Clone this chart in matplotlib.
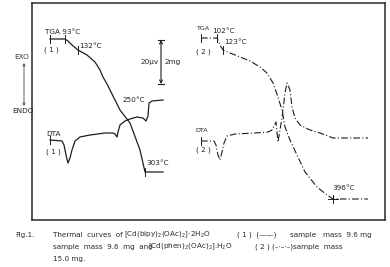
import matplotlib
matplotlib.use('Agg')
import matplotlib.pyplot as plt

# curve (1) solid, chart pixel units (x to the right, y downward)
tga1_x = [50, 65, 68, 72, 78, 87, 95, 100, 103, 107, 115, 120, 130, 140, 145, 163]
tga1_y = [39, 39, 41, 45, 50, 55, 62, 70, 77, 84, 100, 110, 123, 150, 172, 172]
dta1_x = [50, 62, 64, 66, 68, 70, 72, 75, 80, 90, 105, 113, 115, 117, 118, 120, 125,
          130, 137, 143, 146, 148, 149, 152, 163]
dta1_y = [140, 141, 145, 155, 163, 158, 150, 141, 137, 135, 133, 133, 134, 137, 132,
          125, 121, 119, 117, 118, 121, 116, 103, 101, 100]

# curve (2) dash-dot
tga2_x = [201, 217, 220, 223, 230, 240, 250, 260, 267, 273, 278, 282, 285, 290, 297,
          305, 317, 327, 333, 368]
tga2_y = [38, 38, 45, 50, 53, 57, 61, 67, 73, 83, 97, 110, 127, 140, 155, 172, 187,
          195, 199, 199]
dta2_x = [201, 214, 216, 218, 220, 222, 224, 227, 235, 255, 268, 272, 276, 278, 280,
          282, 285, 287, 290, 292, 295, 300, 310, 320, 333, 368]
dta2_y = [141, 141, 145, 155, 160, 152, 143, 136, 134, 133, 132, 130, 122, 142, 130,
          118, 93, 83, 90, 107, 118, 125, 130, 133, 138, 138]

ink = '#1e1e1e'
dashdot = (0, (6, 2, 1, 2))

fig = plt.figure(figsize=(3.9, 2.67), dpi=100)
ax = fig.add_axes([32/390, 1 - 220/267, (385-32)/390, (220-3)/267])
ax.set_xlim(32, 385)
ax.set_ylim(220, 3)
ax.set_xticks([])
ax.set_yticks([])
for s in ax.spines.values():
    s.set_linewidth(1.1)
    s.set_color('#2a2a2a')

ax.plot(tga1_x, tga1_y, color=ink, lw=0.9)
ax.plot(dta1_x, dta1_y, color=ink, lw=0.9)
ax.plot(tga2_x, tga2_y, color=ink, lw=0.8, linestyle=dashdot)
ax.plot(dta2_x, dta2_y, color=ink, lw=0.8, linestyle=dashdot)

# small tick marks on the curves
ticks = [(50, 39), (65, 39), (78, 50), (50, 140), (145, 172),
         (201, 38), (217, 38), (223, 50), (201, 141), (333, 199)]
for tx, ty in ticks:
    ax.plot([tx, tx], [ty - 4, ty + 4], color=ink, lw=0.7)
ax.plot([328, 338], [199, 199], color=ink, lw=0.7)

fs = 5.2
tk = dict(fontsize=fs, color='#222', va='center', ha='left')
ax.text(45, 32, 'TGA 93°C', **tk)
ax.text(44, 50, '( 1 )', **tk)
ax.text(79, 46, '132°C', **tk)
ax.text(122, 100, '250°C', **tk)
ax.text(146, 163, '303°C', **tk)
ax.text(46, 134, 'DTA', **tk)
ax.text(46, 152, '( 1 )', **tk)

ax.text(196, 28, 'TGA', fontsize=4.6, color='#222', va='center', ha='left')
ax.text(212, 31, '102°C', **tk)
ax.text(224, 42, '123°C', **tk)
ax.text(196, 52, '( 2 )', **tk)
ax.text(195, 131, 'DTA', fontsize=4.6, color='#222', va='center', ha='left')
ax.text(196, 150, '( 2 )', **tk)
ax.text(332, 188, '396°C', **tk)

# scale bar
ax.annotate('', xy=(161, 40), xytext=(161, 84),
            arrowprops=dict(arrowstyle='<->', lw=0.8, color=ink, shrinkA=0, shrinkB=0,
                            mutation_scale=5))
ax.plot([158, 164], [40, 40], color=ink, lw=0.8)
ax.plot([158, 164], [84, 84], color=ink, lw=0.8)
ax.text(159, 62, '20μv', fontsize=fs, color='#222', va='center', ha='right')
ax.text(164, 62, '2mg', fontsize=fs, color='#222', va='center', ha='left')

# EXO / ENDO outside the frame
ax.text(22, 57, 'EXO', fontsize=fs, color='#333', va='center', ha='center', clip_on=False)
ax.text(23, 111, 'ENDO', fontsize=fs, color='#222', va='center', ha='center', clip_on=False)
ax.annotate('', xy=(24, 63), xytext=(24, 106), annotation_clip=False,
            arrowprops=dict(arrowstyle='<->', lw=0.6, color='#444', shrinkA=0, shrinkB=0,
                            mutation_scale=4))

# caption
def cap(x, y, s):
    fig.text(x / 390, 1 - y / 267, s, fontsize=5.2, color='#2a2a2a', va='center', ha='left')

cap(15, 235, 'Fig.1.')
cap(53, 235, 'Thermal  curves  of')
cap(124, 235, '[Cd(bipy)$_2$(OAc)$_2$]·2H$_2$O')
cap(237, 235, '( 1 )  (——)')
cap(290, 235, 'sample   mass  9.6 mg')
cap(53, 247, 'sample  mass  9.6  mg  and')
cap(148, 247, '[Cd(phen)$_2$(OAc)$_2$].H$_2$O')
cap(255, 247, '( 2 ) (–·–·–)')
cap(293, 247, 'sample  mass')
cap(53, 259, '15.0 mg.')

fig.savefig('out.png', dpi=100)
